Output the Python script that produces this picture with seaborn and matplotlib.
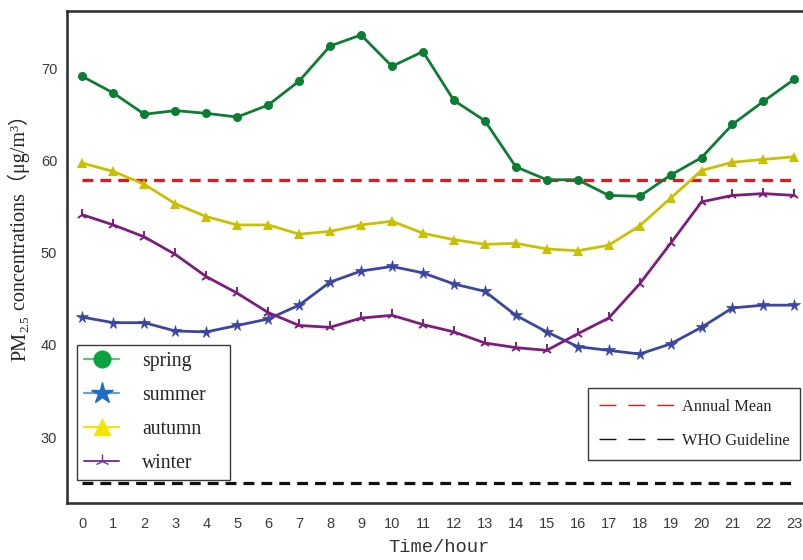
import matplotlib
matplotlib.use("Agg")
import matplotlib.pyplot as plt
from matplotlib.lines import Line2D
import seaborn as sns

# Hourly mean PM2.5 by season
hours = list(range(24))
spring = [69.1, 67.3, 65.0, 65.4, 65.1, 64.7, 66.0, 68.6, 72.4, 73.6, 70.2, 71.8,
          66.5, 64.3, 59.3, 57.9, 57.9, 56.2, 56.1, 58.4, 60.3, 63.9, 66.4, 68.8]
summer = [43.0, 42.4, 42.4, 41.5, 41.4, 42.1, 42.8, 44.3, 46.8, 48.0, 48.5, 47.8,
          46.6, 45.8, 43.2, 41.4, 39.8, 39.4, 39.0, 40.1, 41.9, 44.0, 44.3, 44.3]
autumn = [59.7, 58.8, 57.4, 55.3, 53.9, 53.0, 53.0, 52.0, 52.3, 53.0, 53.4, 52.1,
          51.4, 50.9, 51.0, 50.4, 50.2, 50.8, 52.9, 55.9, 58.9, 59.8, 60.1, 60.4]
winter = [54.1, 53.0, 51.7, 49.8, 47.4, 45.6, 43.5, 42.1, 41.9, 42.9, 43.2, 42.2,
          41.4, 40.2, 39.7, 39.4, 41.2, 42.9, 46.6, 51.0, 55.5, 56.2, 56.4, 56.2]
season_names = ["spring", "summer", "autumn", "winter"]
annual_mean = 57.9
who_guideline = 25.0
y_ticks = [30, 40, 50, 60, 70]

sns.set_style("white")
serif = ["Liberation Serif", "Noto Sans CJK SC"]

fig = plt.figure(figsize=(8.04, 5.6), dpi=100)
ax = fig.add_axes([0.0833, 0.1018, 0.924, 0.8786])

styles = [
    dict(color="#0b7d34", marker="o", markersize=6.5, mew=0),
    dict(color="#3b46a0", marker="*", markersize=8.5, mew=0.5),
    dict(color="#c9c100", marker="^", markersize=7.5, mew=0),
    dict(color="#7c1d7c", marker="2", markersize=8, mew=1.4),
]
for vals, st in zip([spring, summer, autumn, winter], styles):
    sns.lineplot(x=hours, y=vals, ax=ax, color=st["color"], linewidth=2.0,
                 marker=st["marker"], markersize=st["markersize"],
                 markeredgecolor=st["color"], markerfacecolor=st["color"],
                 markeredgewidth=st["mew"], legend=False, zorder=3)

# reference levels
for level, col in [(annual_mean, "#e8161b"), (who_guideline, "#111111")]:
    ax.plot([hours[0], hours[-1]], [level, level], color=col, linewidth=2.3,
            dashes=(3.4, 2.2), zorder=2)

ax.set_xlim(-0.5, 23.5)
ax.set_ylim(22.85, 76.2)
ax.set_xticks(hours)
ax.set_yticks(y_ticks)
ax.tick_params(axis="both", length=0, labelsize=10.5, labelcolor="#3a3a3a")
ax.tick_params(axis="x", pad=10)
ax.tick_params(axis="y", pad=7)
for lab in ax.get_xticklabels() + ax.get_yticklabels():
    lab.set_fontfamily("Liberation Sans")
for sp in ax.spines.values():
    sp.set_color("#333333")
    sp.set_linewidth(1.9)

ax.set_xlabel("Time/hour", family="Liberation Mono", fontsize=13.5,
              color="#333333", labelpad=6)

# season legend
season_handles = [
    Line2D([], [], color="#62c07f", lw=1.6, marker="o", markersize=12,
           markerfacecolor="#0aa23d", markeredgecolor="#0aa23d"),
    Line2D([], [], color="#6d9bd6", lw=1.6, marker="*", markersize=16,
           markerfacecolor="#1f6cc3", markeredgecolor="#1f6cc3"),
    Line2D([], [], color="#f2e600", lw=1.6, marker="^", markersize=12,
           markerfacecolor="#f2e600", markeredgecolor="#f2e600"),
    Line2D([], [], color="#7d35a0", lw=1.4, marker="2", markersize=10,
           markeredgecolor="#7030a0", markeredgewidth=1.0),
]
leg1 = ax.legend(season_handles, season_names, loc="lower left",
                 bbox_to_anchor=(0.0135, 0.0467, 0.206, 0), mode="expand",
                 borderaxespad=0, prop=dict(family=serif, size=14.2),
                 handlelength=1.8, handletextpad=1.15, labelspacing=0.76,
                 borderpad=0.35, fancybox=False, framealpha=1,
                 edgecolor="#3a3a3a", numpoints=1)
leg1.get_frame().set_linewidth(1.0)
ax.add_artist(leg1)

# reference-level legend
ref_handles = [
    Line2D([], [], color="#e8161b", lw=1.0, dashes=(12.2, 8.6)),
    Line2D([], [], color="#111111", lw=1.0, dashes=(12.2, 8.6)),
]
leg2 = ax.legend(ref_handles, ["Annual Mean", "WHO Guideline"], loc="lower left",
                 bbox_to_anchor=(0.701, 0.0874, 0.2853, 0), mode="expand",
                 borderaxespad=0, prop=dict(family=serif, size=11.8),
                 handlelength=4.6, handletextpad=0.45, labelspacing=1.1,
                 borderpad=0.68, fancybox=False, framealpha=1,
                 edgecolor="#3a3a3a")
leg2.get_frame().set_linewidth(1.0)

# y-axis label assembled from pieces so the subscript, superscript and
# full-width brackets all render with proper fonts
fig.canvas.draw()
renderer = fig.canvas.get_renderer()
pieces = [("PM", 14.5, 0), ("2.5", 9.5, 3), (" concentrations（μg/m", 14.5, 0),
          ("3", 9, -6.5), ("）", 14.5, 0)]
base_x = 25 / 804
texts = []
for s, size, shift in pieces:
    t = fig.text(base_x + shift / 804, 0, s, rotation=90, rotation_mode="anchor",
                 ha="left", va="baseline", family=serif, fontsize=size,
                 color="#222222")
    texts.append(t)
lengths = [t.get_window_extent(renderer).height for t in texts]
total = sum(lengths)
y = (560 - 233) - total / 2
for t, L in zip(texts, lengths):
    t.set_y(y / 560)
    y += L

fig.savefig("out.png", dpi=100)
